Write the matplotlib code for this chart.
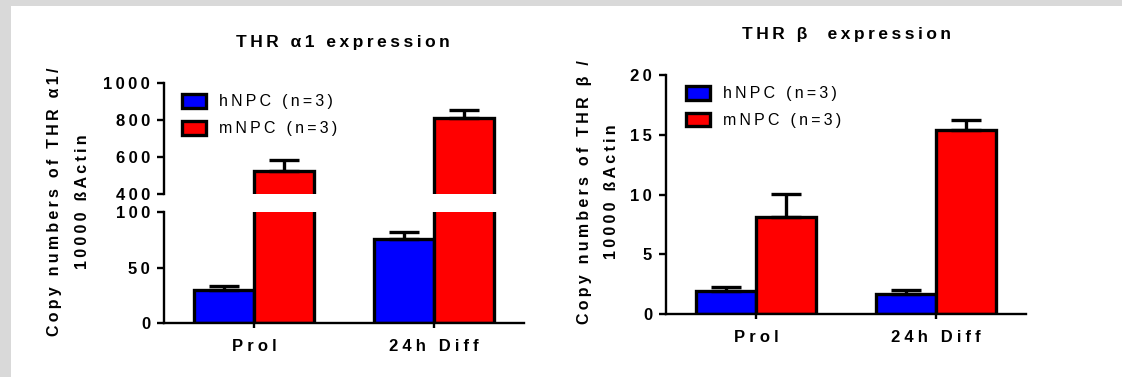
import numpy as np
import matplotlib
matplotlib.use('Agg')
import matplotlib.pyplot as plt
from matplotlib.patches import Rectangle

plt.rcParams['font.family'] = ['Liberation Sans', 'DejaVu Sans']

# Data
categories = ['Prol', '24h Diff']
series = ['hNPC (n=3)', 'mNPC (n=3)']
colors = ['#0000ff', '#ff0000']

a1_hnpc = [30, 76]
a1_hnpc_err = [4, 6]
a1_mnpc = [526, 811]
a1_mnpc_err = [61, 45]

b_hnpc = [1.97, 1.67]
b_hnpc_err = [0.34, 0.36]
b_mnpc = [8.15, 15.4]
b_mnpc_err = [1.88, 0.83]

a1_upper_ticks = [400, 600, 800, 1000]
a1_lower_ticks = [0, 50, 100]
b_ticks = [0, 5, 10, 15, 20]

titles = ['THR \u03b11 expression', 'THR \u03b2  expression']
ylabels = [('Copy numbers of THR \u03b11/', '10000 \u00dfActin'),
           ('Copy numbers of THR \u03b2 /', '10000 \u00dfActin')]

THIN = '\u2009'      # 1/5 em space
QUARTER = '\u2005'   # 1/4 em space


def sp(s, gap=THIN):
    # Prism-style wide letter spacing
    return gap.join(s)


W, H = 1122, 377
bar_w = 0.333
x = np.arange(len(categories))


def draw_bars(ax, h, herr, m, merr):
    for off, vals, errs, c, lab in [(-bar_w / 2, h, herr, colors[0], series[0]),
                                    (bar_w / 2, m, merr, colors[1], series[1])]:
        ax.bar(x + off, vals, bar_w, color=c, edgecolor='black', linewidth=2.4,
               label=sp(lab))
        ax.errorbar(x + off, vals, yerr=[np.zeros(len(vals)), errs], fmt='none',
                    ecolor='black', elinewidth=2.4, capsize=10.8, capthick=2.4)
    ax.set_xlim(-0.5, 1.5)
    for s in ['top', 'right']:
        ax.spines[s].set_visible(False)
    for s in ['left', 'bottom']:
        ax.spines[s].set_linewidth(1.7)
    ax.set_facecolor('none')
    ax.tick_params(axis='y', length=5, width=1.7, pad=5, labelsize=12)
    ax.tick_params(axis='x', length=3.6, width=1.7, pad=7.5, labelsize=12)


def set_yt(ax, ticks):
    ax.set_yticks(ticks, [sp(str(t)) for t in ticks], fontweight='bold')


def set_xt(ax):
    ax.set_xticks(x, [sp(c, QUARTER) for c in categories], fontweight='bold')


def add_legend(ax, anchor):
    ax.legend(loc='upper left', bbox_to_anchor=anchor, frameon=False,
              fontsize=11.5, handlelength=1.5, handleheight=0.95,
              handletextpad=0.85, labelspacing=0.72, borderpad=0,
              borderaxespad=0)


fig = plt.figure(figsize=(W / 100, H / 100), dpi=100, facecolor='#d9d9d9')
fig.add_artist(Rectangle((11 / W, 0), 1, 1 - 6 / H, transform=fig.transFigure,
                         facecolor='white', edgecolor='none', zorder=-10))

# ---- left chart: THR alpha1 with broken y axis
ax_lo = fig.add_axes([164 / W, 1 - 323.3 / H, 360 / W, 111 / H])
ax_hi = fig.add_axes([164 / W, 1 - 194.3 / H, 360 / W, 111 / H])
for ax in (ax_lo, ax_hi):
    draw_bars(ax, a1_hnpc, a1_hnpc_err, a1_mnpc, a1_mnpc_err)
ax_lo.set_ylim(0, 100)
set_yt(ax_lo, a1_lower_ticks)
set_xt(ax_lo)
ax_hi.set_ylim(400, 1000)
set_yt(ax_hi, a1_upper_ticks)
ax_hi.spines['bottom'].set_visible(False)
ax_hi.set_xticks([])
add_legend(ax_hi, (0.049, 0.904))

# ---- right chart: THR beta
ax_b = fig.add_axes([666 / W, 1 - 314.3 / H, 360 / W, 239.3 / H])
draw_bars(ax_b, b_hnpc, b_hnpc_err, b_mnpc, b_mnpc_err)
ax_b.set_ylim(0, 20)
set_yt(ax_b, b_ticks)
set_xt(ax_b)
add_legend(ax_b, (0.055, 0.955))

# titles and y labels
fig.text(343 / W, 1 - 47 / H, sp(titles[0]), ha='center', va='baseline',
         fontsize=12.5, fontweight='bold')
fig.text(846 / W, 1 - 39.5 / H, sp(titles[1]), ha='center', va='baseline',
         fontsize=12.5, fontweight='bold')
for (l1, l2), cx, cy, ls in zip(ylabels, [68.5, 598], [202, 192], [2.05, 1.95]):
    fig.text(cx / W, 1 - cy / H, sp(l1) + '\n' + sp(l2), rotation=90,
             ha='center', va='center', multialignment='center',
             linespacing=ls, fontsize=11.5, fontweight='bold')

fig.savefig('out.png', dpi=100, facecolor=fig.get_facecolor())
